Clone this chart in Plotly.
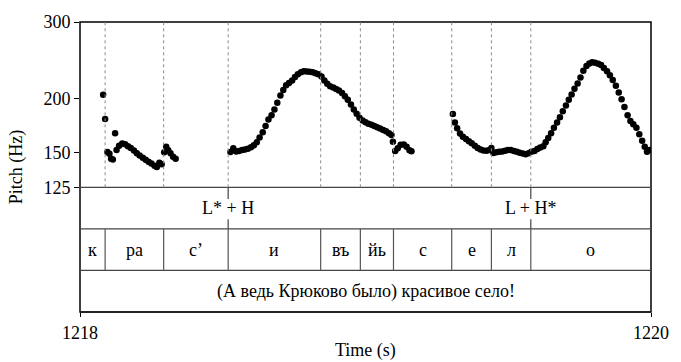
import math
import plotly.graph_objects as go

# ---- Pitch track (s, Hz) ----
pitch_time = [
    1218.081, 1218.088, 1218.096, 1218.103, 1218.109, 1218.115, 1218.123, 1218.128,
    1218.137, 1218.148, 1218.158, 1218.168, 1218.178, 1218.189, 1218.199, 1218.209,
    1218.220, 1218.230, 1218.240, 1218.250, 1218.261, 1218.269, 1218.278, 1218.286,
    1218.295, 1218.302, 1218.309, 1218.317, 1218.326, 1218.335,
    1218.527, 1218.537, 1218.547, 1218.557, 1218.568, 1218.578, 1218.588, 1218.599,
    1218.609, 1218.619, 1218.629, 1218.640, 1218.650, 1218.660, 1218.671, 1218.681,
    1218.691, 1218.702, 1218.712, 1218.722, 1218.732, 1218.743, 1218.753, 1218.763,
    1218.774, 1218.784, 1218.794, 1218.804, 1218.815, 1218.825, 1218.835, 1218.846,
    1218.856, 1218.866, 1218.876, 1218.887, 1218.897, 1218.907, 1218.918, 1218.928,
    1218.938, 1218.949, 1218.959, 1218.969, 1218.979, 1218.990, 1219.000, 1219.010,
    1219.021, 1219.031, 1219.041, 1219.051, 1219.062, 1219.072, 1219.082, 1219.091,
    1219.096, 1219.104, 1219.113, 1219.123, 1219.134, 1219.144, 1219.154, 1219.161,
    1219.306, 1219.313, 1219.321, 1219.331, 1219.341, 1219.352, 1219.362, 1219.372,
    1219.383, 1219.393, 1219.403, 1219.413, 1219.424, 1219.434, 1219.441, 1219.448,
    1219.458, 1219.468, 1219.479, 1219.489, 1219.499, 1219.509, 1219.520, 1219.530,
    1219.540, 1219.551, 1219.561, 1219.571, 1219.581, 1219.592, 1219.602, 1219.612,
    1219.623, 1219.631, 1219.640, 1219.650, 1219.660, 1219.671, 1219.681, 1219.691,
    1219.702, 1219.712, 1219.722, 1219.732, 1219.743, 1219.753, 1219.763, 1219.774,
    1219.784, 1219.794, 1219.804, 1219.815, 1219.825, 1219.835, 1219.846, 1219.856,
    1219.866, 1219.877, 1219.887, 1219.897, 1219.907, 1219.918, 1219.928, 1219.938,
    1219.949, 1219.959, 1219.969, 1219.978, 1219.986, 1219.995,
]
pitch_hz = [
    204.1, 179.5, 150.6, 149.3, 145.4, 144.9, 166.5, 152.4,
    155.8, 157.6, 157.0, 155.4, 153.9, 151.9, 149.8, 148.0,
    146.2, 144.7, 143.2, 141.7, 140.2, 139.1, 142.4, 141.3,
    150.5, 155.0, 152.2, 149.8, 146.9, 145.4,
    150.6, 153.7, 151.0, 151.5, 152.4, 152.7, 153.3, 154.6,
    156.2, 158.6, 162.7, 167.4, 173.0, 178.9, 183.0, 188.8,
    195.7, 203.3, 209.2, 214.6, 217.3, 220.1, 224.1, 227.6,
    229.9, 231.1, 230.9, 230.5, 229.9, 228.8, 227.6, 224.7,
    220.1, 216.2, 213.5, 212.0, 210.4, 208.6, 206.0, 202.5,
    198.7, 193.7, 188.8, 184.5, 180.7, 178.0, 176.4, 175.0,
    174.0, 172.9, 171.7, 170.6, 169.4, 168.1, 166.5, 164.8,
    159.0, 151.5, 153.8, 156.6, 156.8, 155.0, 152.1, 151.3,
    184.2, 176.2, 170.9, 166.1, 163.3, 161.5, 159.6, 157.8,
    155.8, 154.0, 152.7, 151.9, 151.7, 152.3, 153.9, 150.0,
    150.4, 150.8, 151.1, 151.7, 152.3, 152.3, 151.5, 150.8,
    150.1, 149.6, 148.9, 149.7, 150.8, 151.5, 153.1, 154.3,
    155.4, 158.6, 162.3, 166.5, 171.3, 176.2, 181.1, 186.9,
    192.7, 198.7, 204.4, 210.7, 216.7, 223.5, 231.7, 237.7,
    240.8, 242.3, 241.7, 240.4, 238.9, 235.2, 231.1, 226.4,
    220.7, 214.0, 206.5, 199.2, 191.2, 183.0, 177.5, 174.6,
    171.3, 165.6, 159.9, 155.0, 150.8, 152.3,
]

# ---- Annotation tiers ----
seg_bounds = [1218.0, 1218.088, 1218.293, 1218.519, 1218.843, 1218.982,
              1219.098, 1219.302, 1219.441, 1219.579, 1220.0]
seg_labels = ["к", "ра", "с’", "и", "въ", "йь", "с", "е", "л", "о"]
tone_times = [1218.519, 1219.579]
tone_labels = ["L* + H", "L + H*"]
sentence = "(А ведь Крюково было) красивое село!"

t_min, t_max = 1218.0, 1220.0
f_min, f_max = 125, 300
pitch_ticks = [125, 150, 200, 300]

FONT = "Liberation Serif"
FS = 18

# vertical layout of the panels (paper fractions, bottom = 0)
PITCH_BOTTOM = 0.43
TONE_BOTTOM = 0.2867
SEG_BOTTOM = 0.1433

fig = go.Figure()
fig.add_trace(go.Scatter(
    x=pitch_time, y=pitch_hz, mode="markers",
    marker=dict(color="black", size=6.5, line=dict(width=0)),
    showlegend=False, hoverinfo="skip",
))

shapes = []
# outer frame
shapes.append(dict(type="rect", xref="paper", yref="paper", x0=0, x1=1, y0=0, y1=1,
                   line=dict(color="black", width=1.5)))
# panel separators
for yy in (PITCH_BOTTOM, TONE_BOTTOM, SEG_BOTTOM):
    shapes.append(dict(type="line", xref="paper", yref="paper", x0=0, x1=1, y0=yy, y1=yy,
                       line=dict(color="#444", width=1.2)))
# bottom axis line, slightly heavier
shapes.append(dict(type="line", xref="paper", yref="paper", x0=0, x1=1, y0=0, y1=0,
                   line=dict(color="#222", width=2.2)))

inner = seg_bounds[1:-1]
# dotted boundary lines through the pitch panel
for b in inner:
    shapes.append(dict(type="line", xref="x", yref="paper", x0=b, x1=b,
                       y0=PITCH_BOTTOM, y1=1,
                       line=dict(color="#8a8a8a", width=1, dash="dot")))
# interval boundaries in the segment tier
for b in inner:
    shapes.append(dict(type="line", xref="x", yref="paper", x0=b, x1=b,
                       y0=SEG_BOTTOM, y1=TONE_BOTTOM,
                       line=dict(color="#555", width=1.2)))
# point-tier ticks
for tt in tone_times:
    shapes.append(dict(type="line", xref="x", yref="paper", x0=tt, x1=tt,
                       y0=PITCH_BOTTOM - 0.04, y1=PITCH_BOTTOM,
                       line=dict(color="#444", width=1.2)))
    shapes.append(dict(type="line", xref="x", yref="paper", x0=tt, x1=tt,
                       y0=TONE_BOTTOM, y1=TONE_BOTTOM + 0.033,
                       line=dict(color="#444", width=1.2)))

annotations = []
txt_font = dict(family=FONT, size=FS, color="black")
for tt, lab in zip(tone_times, tone_labels):
    annotations.append(dict(x=tt, y=(PITCH_BOTTOM + TONE_BOTTOM) / 2, xref="x", yref="paper",
                            text=lab, showarrow=False, font=txt_font,
                            xanchor="center", yanchor="middle"))
for i, lab in enumerate(seg_labels):
    mid = (seg_bounds[i] + seg_bounds[i + 1]) / 2
    annotations.append(dict(x=mid, y=(TONE_BOTTOM + SEG_BOTTOM) / 2, xref="x", yref="paper",
                            text=lab, showarrow=False, font=txt_font,
                            xanchor="center", yanchor="middle"))
annotations.append(dict(x=(t_min + t_max) / 2, y=SEG_BOTTOM / 2, xref="x", yref="paper",
                        text=sentence, showarrow=False, font=txt_font,
                        xanchor="center", yanchor="middle"))
# axis titles
annotations.append(dict(x=0.5, y=-0.133, xref="paper", yref="paper", text="Time (s)",
                        showarrow=False, font=txt_font, xanchor="center", yanchor="middle"))
annotations.append(dict(x=-0.1115, y=0.5, xref="paper", yref="paper", text="Pitch (Hz)",
                        showarrow=False, font=txt_font, textangle=-90,
                        xanchor="center", yanchor="middle"))

fig.update_layout(
    width=681, height=362,
    margin=dict(l=80, r=18, t=12, b=50),
    paper_bgcolor="white", plot_bgcolor="white",
    shapes=shapes, annotations=annotations,
    xaxis=dict(range=[t_min, t_max], anchor="free", position=0,
               tickvals=[t_min, t_max], ticktext=["1218", "1220"],
               ticks="outside", ticklen=4, tickwidth=1.2, tickcolor="black",
               showgrid=False, zeroline=False, showline=False,
               tickfont=dict(family=FONT, size=FS, color="black")),
    yaxis=dict(type="log", domain=[PITCH_BOTTOM, 1],
               range=[math.log10(f_min), math.log10(f_max)],
               tickvals=pitch_ticks, ticktext=[str(v) for v in pitch_ticks],
               ticks="outside", ticklen=5, tickwidth=1.2, tickcolor="black",
               showgrid=False, zeroline=False, showline=False,
               tickfont=dict(family=FONT, size=FS, color="black")),
)

fig.write_html("out.html")
